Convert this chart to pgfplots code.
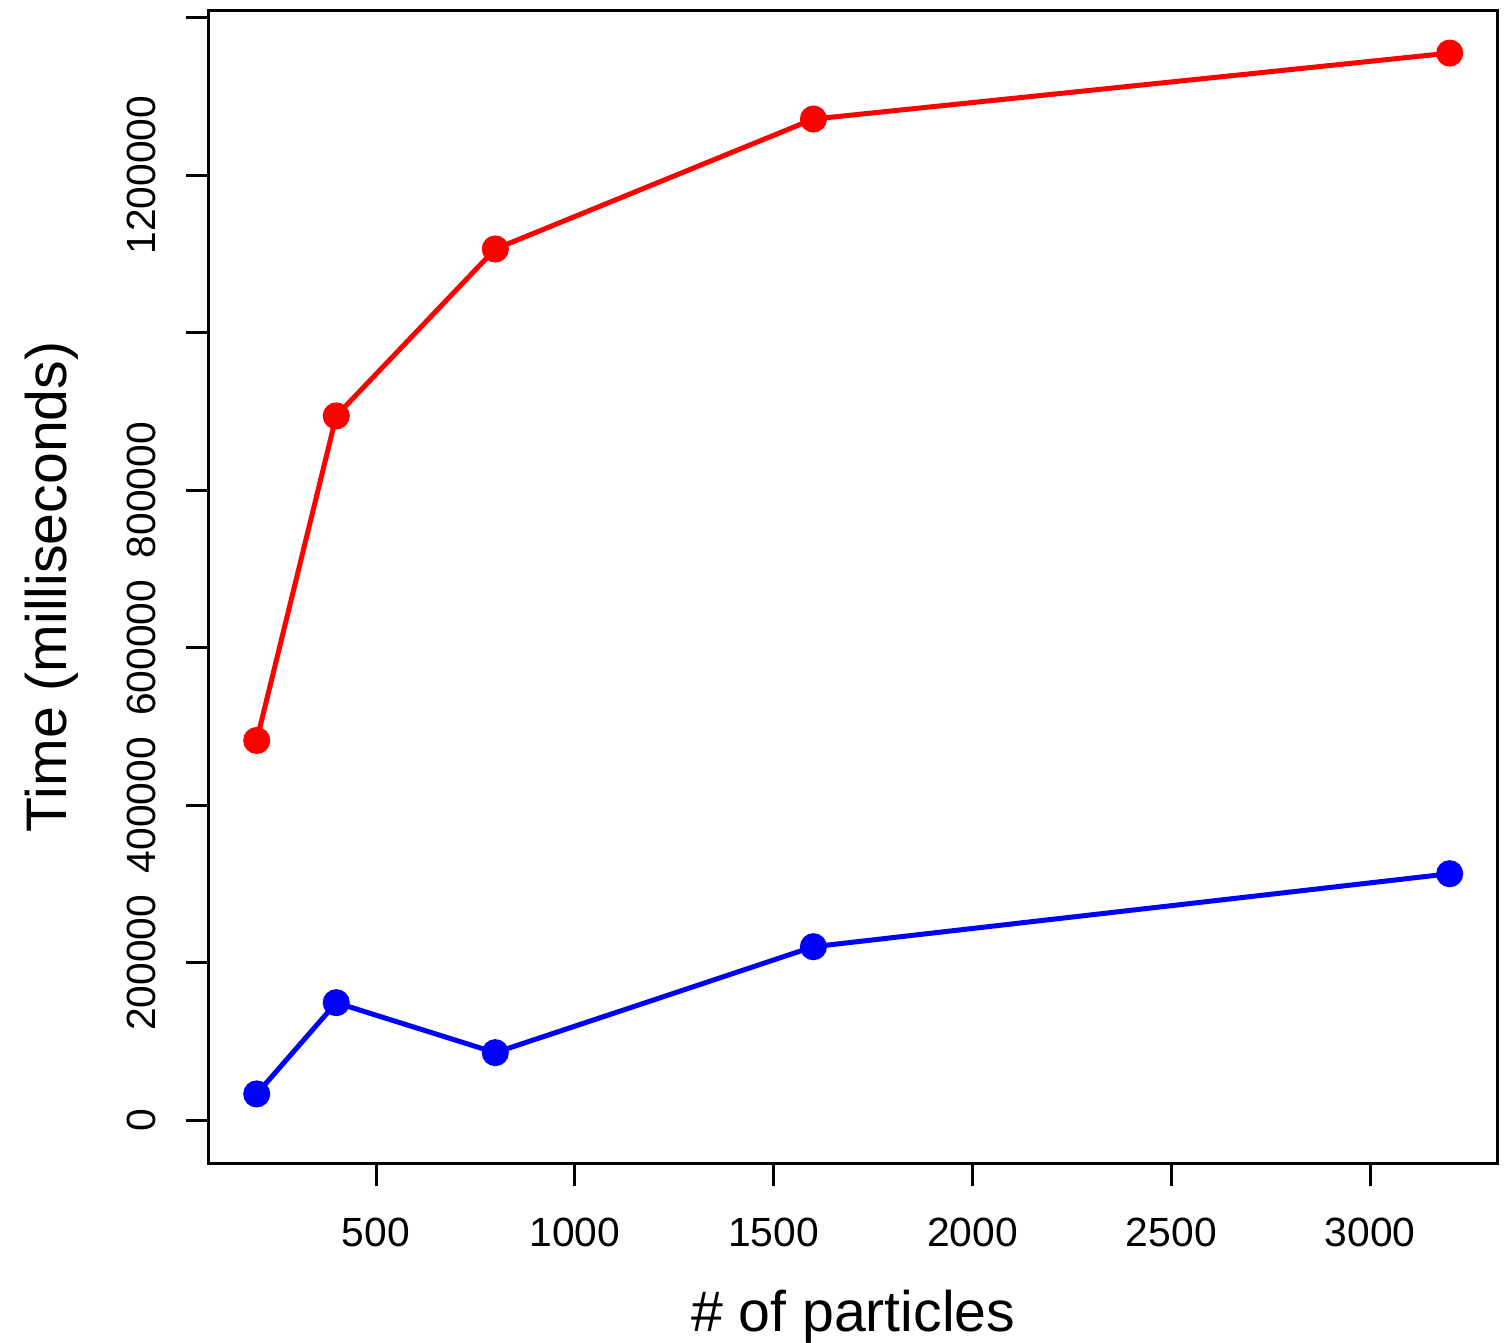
\documentclass[border=0pt]{standalone}
\usepackage{pgfplots}
\pgfplotsset{compat=1.18}
\usepackage{fontspec}
\setmainfont{Liberation Sans}
\begin{document}
\begin{tikzpicture}
\begin{axis}[
  scale only axis,
  width=322.1pt, height=288.1pt,
  xmin=80, xmax=3320,
  ymin=-54180, ymax=1408720,
  axis line style={line width=0.75pt},
  tick style={line width=0.75pt, black},
  tick align=outside,
  major tick length=5.75pt,
  xtick pos=bottom, ytick pos=left,
  xtick={500,1000,1500,2000,2500,3000},
  xticklabels={500,1000,1500,2000,2500,3000},
  ytick={0,200000,400000,600000,800000,1000000,1200000,1400000},
  yticklabels={0,200000,400000,600000,800000,,1200000,},
  scaled ticks=false,
  ticklabel style={font=\fontsize{10.2pt}{12pt}\selectfont},
  yticklabel style={rotate=90, anchor=south},
  xticklabel shift=4.5pt,
  yticklabel shift=3.9pt,
  xlabel={\# of particles},
  ylabel={Time (milliseconds)},
  label style={font=\fontsize{14.3pt}{17pt}\selectfont},
  xlabel style={yshift=-4pt},
  ylabel shift=5.5pt,
]
\addplot[red, line width=1.25pt, mark=*, mark size=2.75pt, mark options={solid, fill=red, draw=red}] coordinates {
  (200,482188) (400,894210) (800,1106106) (1600,1271064) (3200,1354812)
};
\addplot[blue, line width=1.25pt, mark=*, mark size=2.75pt, mark options={solid, fill=blue, draw=blue}] coordinates {
  (200,33499) (400,149350) (800,85905) (1600,220409) (3200,313039)
};
\end{axis}
\pgfresetboundingbox
\path (-52.25pt,-44.75pt) rectangle (324.75pt,290.75pt);
\end{tikzpicture}
\end{document}
